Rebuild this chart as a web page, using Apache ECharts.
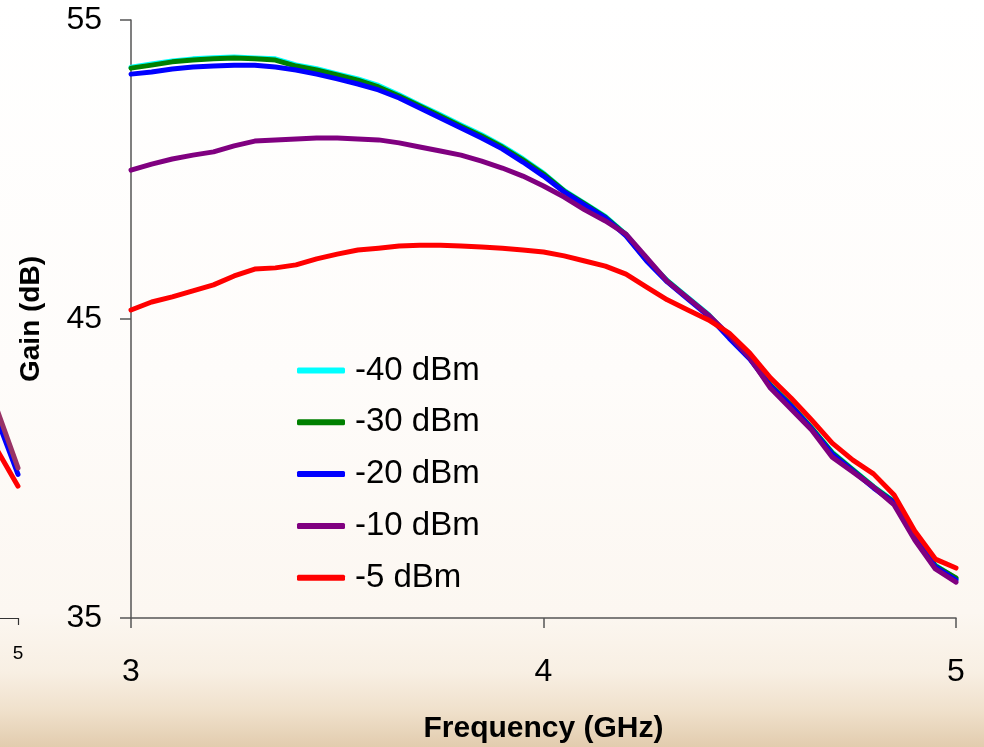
<!DOCTYPE html>
<html>
<head>
<meta charset="utf-8">
<script src="https://cdn.jsdelivr.net/npm/echarts@6/dist/echarts.min.js"></script>
<style>
html,body{margin:0;padding:0;}
#chart{width:984px;height:747px;}
</style>
</head>
<body>
<div id="chart"></div>
<script>
// Frequency (GHz)
var freq = [3.00,3.05,3.10,3.15,3.20,3.25,3.30,3.35,3.40,3.45,3.50,3.55,3.60,3.65,3.70,3.75,3.80,3.85,3.90,3.95,
            4.00,4.05,4.10,4.15,4.20,4.25,4.30,4.35,4.40,4.45,4.50,4.55,4.60,4.65,4.70,4.75,4.80,4.85,4.90,4.95,5.00];
// Gain (dB) per input power
var gain40 = [53.42,53.53,53.63,53.70,53.74,53.76,53.73,53.70,53.50,53.37,53.20,53.03,52.81,52.50,52.16,51.83,51.49,51.16,50.79,50.36,
              49.88,49.30,48.87,48.43,47.83,46.99,46.29,45.72,45.15,44.42,43.72,42.81,42.14,41.37,40.55,39.97,39.40,38.90,37.74,36.77,36.32];
var gain30 = [53.39,53.49,53.60,53.66,53.70,53.73,53.70,53.66,53.46,53.33,53.16,52.99,52.76,52.46,52.12,51.79,51.45,51.12,50.75,50.32,
              49.85,49.28,48.85,48.41,47.81,46.97,46.27,45.70,45.13,44.40,43.70,42.79,42.12,41.35,40.52,39.95,39.38,38.88,37.71,36.74,36.34];
var gain20 = [53.19,53.26,53.36,53.43,53.46,53.49,53.49,53.43,53.33,53.19,53.03,52.86,52.66,52.39,52.06,51.72,51.39,51.05,50.69,50.25,
              49.78,49.25,48.81,48.38,47.78,46.94,46.24,45.67,45.10,44.36,43.66,42.76,42.09,41.32,40.48,39.92,39.35,38.85,37.68,36.71,36.27];
var gain10 = [49.98,50.18,50.35,50.48,50.59,50.79,50.95,50.99,51.02,51.05,51.05,51.02,50.99,50.89,50.75,50.62,50.48,50.28,50.05,49.78,
              49.45,49.08,48.65,48.28,47.84,47.05,46.26,45.70,45.13,44.46,43.70,42.69,41.99,41.29,40.38,39.88,39.38,38.78,37.61,36.64,36.20];
var gain5  = [45.30,45.57,45.74,45.94,46.14,46.44,46.67,46.71,46.81,47.01,47.17,47.31,47.37,47.44,47.47,47.47,47.44,47.41,47.37,47.31,
              47.24,47.11,46.94,46.77,46.50,46.07,45.64,45.30,44.97,44.53,43.86,43.03,42.36,41.62,40.85,40.28,39.82,39.11,37.91,36.97,36.67];
var seriesNames = ['-40 dBm','-30 dBm','-20 dBm','-10 dBm','-5 dBm'];
var seriesColors = ['#00ffff','#008000','#0000ff','#800080','#ff0000'];

// Tail end of the neighbouring (cropped) chart on the left
var leftFreq = [4.94,5.00];
var leftGain10 = [42.32,40.02];
var leftGain20 = [42.00,39.80];
var leftGain5  = [40.84,39.41];
var leftTicks = [5];

function pairs(xs, ys){ return xs.map(function(x,i){ return [x, ys[i]]; }); }

var allGains = [gain40,gain30,gain20,gain10,gain5];
var mainSeries = allGains.map(function(g,i){
  return {
    name: seriesNames[i], type:'line', xAxisIndex:0, yAxisIndex:0,
    data: pairs(freq,g), showSymbol:false, symbol:'none', smooth:false,
    lineStyle:{color:seriesColors[i], width:5, cap:'round', join:'round'},
    itemStyle:{color:seriesColors[i]}, z: 2+i
  };
});
var leftSeries = [
  {data:pairs(leftFreq,leftGain5), color:'#ff0000'},
  {data:pairs(leftFreq,leftGain20), color:'#0000ff'},
  {data:pairs(leftFreq,leftGain10), color:'#993366'}
].map(function(s,i){
  return {type:'line', xAxisIndex:1, yAxisIndex:1, data:s.data, showSymbol:false, symbol:'none', clip:false,
    lineStyle:{color:s.color, width:5, cap:'round'}, z:2+i};
});

var chart = echarts.init(document.getElementById('chart'));
var font = 'Arial, "Liberation Sans", sans-serif';
// left partial chart: same scale as the main one (412.5 px per GHz), only its right 18 px visible
var leftMin = 5 - 18/412.5;
chart.setOption({
  animation:false,
  backgroundColor: new echarts.graphic.LinearGradient(0,0,0,1,[
    {offset:0,color:'#ffffff'},
    {offset:0.5,color:'#fefcfa'},
    {offset:0.82,color:'#fcf7f1'},
    {offset:0.9,color:'#f8efe3'},
    {offset:0.95,color:'#f0e1cc'},
    {offset:1,color:'#e2ccae'}
  ]),
  grid:[
    {left:131, right:28, top:20, bottom:129, outerBoundsMode:'none', containLabel:false},
    {left:0, width:18, top:20, bottom:129, outerBoundsMode:'none', containLabel:false}
  ],
  legend:{
    data:seriesNames, orient:'vertical', left:297, top:354, padding:0,
    icon:'roundRect', itemWidth:48, itemHeight:6, itemGap:18.8,
    textStyle:{fontFamily:font, fontSize:33, color:'#000', lineHeight:33, padding:[0,0,0,5]}
  },
  xAxis:[
    {type:'value', gridIndex:0, min:3, max:5, interval:1,
     name:'Frequency (GHz)', nameLocation:'middle', nameGap:96,
     nameTextStyle:{fontFamily:font, fontWeight:'bold', fontSize:30, color:'#000'},
     axisLine:{show:true, onZero:false, lineStyle:{color:'#555', width:1.5}},
     axisTick:{show:true, inside:false, length:10, lineStyle:{color:'#555', width:1.5}},
     axisLabel:{fontFamily:font, fontSize:32, color:'#000', margin:38},
     splitLine:{show:false}},
    {type:'value', gridIndex:1, min:leftMin, max:5,
     axisLine:{show:true, onZero:false, lineStyle:{color:'#333', width:1.2}},
     axisTick:{show:true, inside:false, length:7, customValues:leftTicks, lineStyle:{color:'#333', width:1.2}},
     axisLabel:{fontFamily:font, fontSize:19, color:'#000', margin:26, customValues:leftTicks, showMaxLabel:true},
     splitLine:{show:false}}
  ],
  yAxis:[
    {type:'value', gridIndex:0, min:35, max:55, interval:10,
     name:'Gain (dB)', nameLocation:'middle', nameGap:86, nameRotate:90,
     nameTextStyle:{fontFamily:font, fontWeight:'bold', fontSize:28, color:'#000'},
     axisLine:{show:true, onZero:false, lineStyle:{color:'#555', width:1.5}},
     axisTick:{show:true, inside:false, length:11, lineStyle:{color:'#555', width:1.5}},
     axisLabel:{fontFamily:font, fontSize:32, color:'#000', margin:29},
     splitLine:{show:false}},
    {type:'value', gridIndex:1, min:35, max:55, interval:10, show:false}
  ],
  series: mainSeries.concat(leftSeries)
});
</script>
</body>
</html>
